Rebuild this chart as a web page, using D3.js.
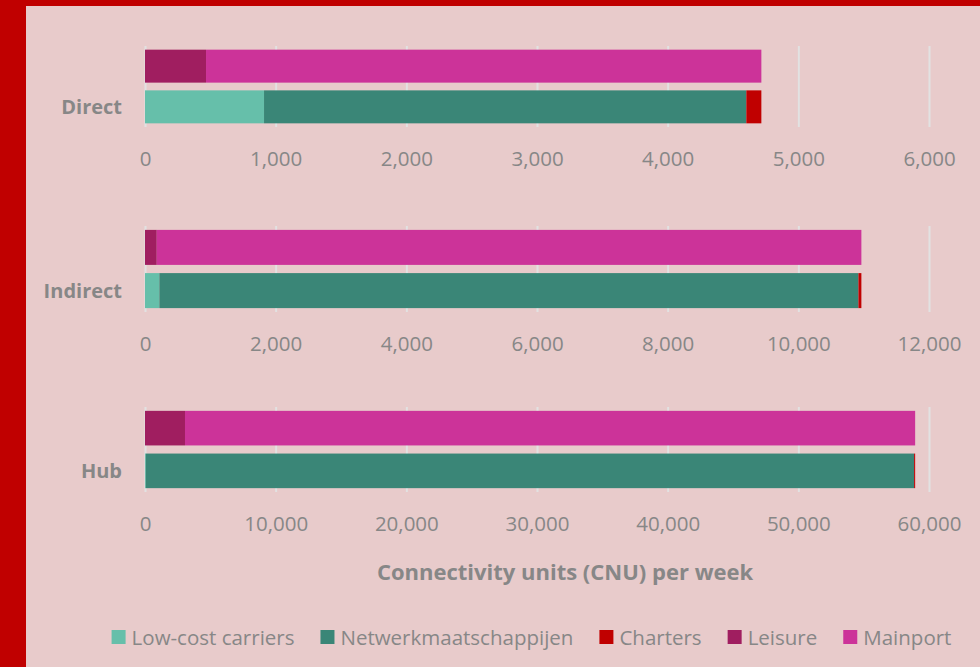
<!DOCTYPE html>
<html>
<head>
<meta charset="utf-8">
<script src="https://cdn.jsdelivr.net/npm/d3@7"></script>
<style>
body { margin: 0; background: #E8CBCB; }
svg { display: block; }
text { font-family: "Open Sans", sans-serif; fill: #878787; }
</style>
</head>
<body>
<svg id="svg0"></svg>
<script>
// values, one entry per panel
let categories = ['Direct', 'Indirect', 'Hub'];
let seriesNames = ['Low-cost carriers', 'Netwerkmaatschappijen', 'Charters', 'Leisure', 'Mainport'];
let lowCost = [911, 220, 60];
let netwerk = [3691, 10700, 58800];
let charters = [115, 45, 80];
let leisure = [467, 180, 3060];
let mainport = [4250, 10785, 55880];
let axisMax = [6000, 12000, 60000];
let directTicks = [0, 1000, 2000, 3000, 4000, 5000, 6000];
let indirectTicks = [0, 2000, 4000, 6000, 8000, 10000, 12000];
let hubTicks = [0, 10000, 20000, 30000, 40000, 50000, 60000];

let width = 980;
let height = 667;
let colors = ['#66BFAA', '#3A8677', '#C00000', '#A01E60', '#CC3399'];
let colorScale = d3.scaleOrdinal().domain(seriesNames).range(colors);

let svg = d3.select('#svg0').attr('width', width).attr('height', height);

// red frame on the left and top
svg.append('rect').attr('x', 0).attr('y', 0).attr('width', width).attr('height', height).style('fill', '#E8CBCB');
svg.append('rect').attr('x', 0).attr('y', 0).attr('width', 26).attr('height', height).style('fill', '#C00000');
svg.append('rect').attr('x', 0).attr('y', 0).attr('width', width).attr('height', 6).style('fill', '#C00000');

let plotLeft = 145, plotRight = 929;
let panelTop = [46, 226, 407];
let panelHeight = [81, 86, 85];
let ticks = [directTicks, indirectTicks, hubTicks];

categories.forEach((cat, i)=>{
    let xScale = d3.scaleLinear().domain([0, axisMax[i]]).range([plotLeft, plotRight]);
    let yScale = d3.scaleBand().domain(['upper', 'lower'])
        .range([panelTop[i], panelTop[i] + panelHeight[i]])
        .paddingInner(0.19).paddingOuter(0.09);
    let bottom = panelTop[i] + panelHeight[i];

    // gridlines
    let grid = svg.append('g').attr('transform', 'translate(0, ' + bottom + ')')
        .call(d3.axisBottom(xScale).tickValues(ticks[i]).tickSize(-panelHeight[i]).tickFormat(''));
    grid.select('.domain').remove();
    grid.selectAll('line').style('stroke', '#E2E2E2').style('stroke-width', '2px');

    // two stacked rows: leisure/mainport above, the carrier split below
    let rows = [
        {row: 'upper', parts: [['Leisure', leisure[i]], ['Mainport', mainport[i]]]},
        {row: 'lower', parts: [['Low-cost carriers', lowCost[i]], ['Netwerkmaatschappijen', netwerk[i]], ['Charters', charters[i]]]}
    ];
    rows.forEach(r=>{
        let acc = 0;
        let segs = r.parts.map(p=>{
            let s = {name: p[0], x0: acc, x1: acc + p[1]};
            acc += p[1];
            return s;
        });
        svg.append('g').selectAll('rect').data(segs).enter().append('rect')
            .attr('x', d=>{return xScale(d.x0);})
            .attr('width', d=>{return xScale(d.x1) - xScale(d.x0);})
            .attr('y', yScale(r.row))
            .attr('height', yScale.bandwidth())
            .style('fill', d=>{return colorScale(d.name);});
    });

    // tick labels
    let ax = svg.append('g').attr('transform', 'translate(0, ' + bottom + ')')
        .call(d3.axisBottom(xScale).tickValues(ticks[i]).tickSize(0).tickPadding(24).tickFormat(d3.format(',')));
    ax.select('.domain').remove();
    ax.selectAll('text').style('font-size', '20.5px').style('fill', '#878787').style('font-family', '"Open Sans", sans-serif');

    // category label
    svg.append('text')
        .attr('x', 122)
        .attr('y', yScale('lower') + yScale.bandwidth() / 2)
        .text(cat)
        .style('font-size', '20px').style('font-weight', 'bold')
        .style('text-anchor', 'end').style('dominant-baseline', 'central');
});

// axis title
svg.append('text')
    .attr('x', 565).attr('y', 571)
    .text('Connectivity units (CNU) per week')
    .style('font-size', '22px').style('font-weight', 'bold')
    .style('text-anchor', 'middle').style('dominant-baseline', 'central');

// legend
let legend = svg.append('g');
let lx = 0;
seriesNames.forEach(name=>{
    let item = legend.append('g').attr('transform', 'translate(' + lx + ', 0)');
    item.append('rect').attr('x', 0).attr('y', -7).attr('width', 14).attr('height', 14).style('fill', colorScale(name));
    let t = item.append('text').attr('x', 20).attr('y', 0).text(name)
        .style('font-size', '20.5px').style('dominant-baseline', 'central');
    lx += 20 + t.node().getComputedTextLength() + 26;
});
let legendWidth = lx - 26;
legend.attr('transform', 'translate(' + (531.5 - legendWidth / 2) + ', 637)');
</script>
</body>
</html>
